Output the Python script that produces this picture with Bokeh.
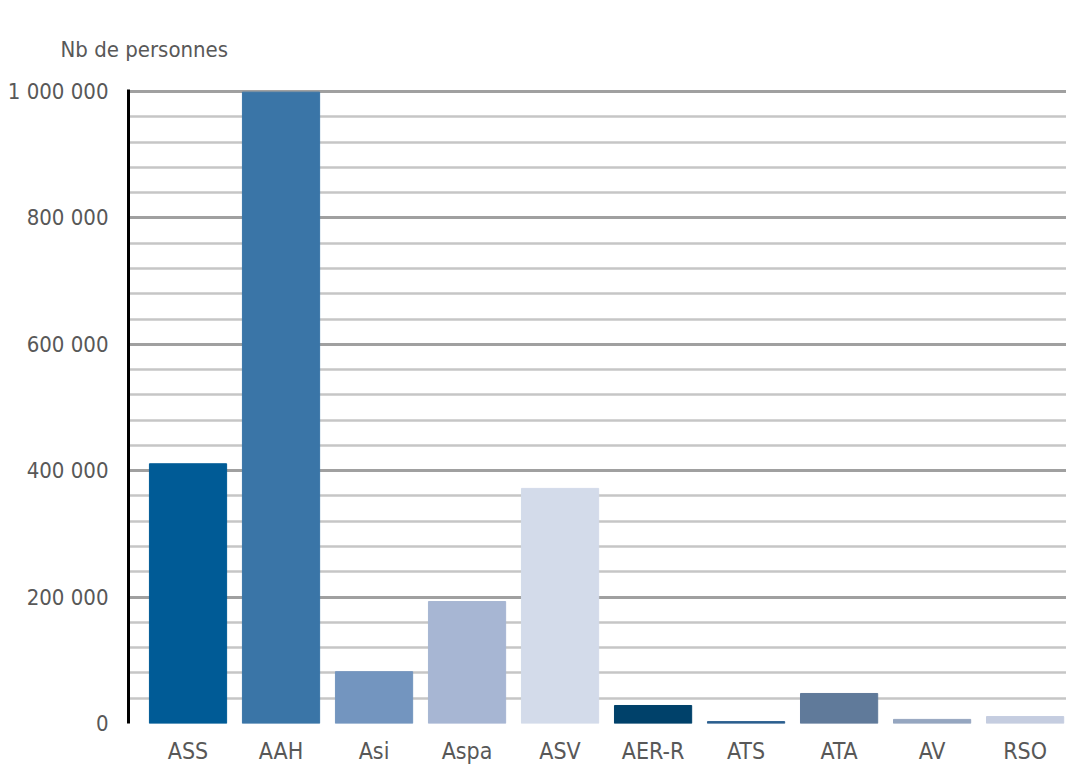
from bokeh.plotting import figure
from bokeh.models import Range1d, FixedTicker, ColumnDataSource
from bokeh.embed import file_html
from bokeh.resources import INLINE

categories = ["ASS", "AAH", "Asi", "Aspa", "ASV", "AER-R", "ATS", "ATA", "AV", "RSO"]
values = [411000, 999000, 82000, 193000, 372000, 28500, 3000, 47500, 6500, 11000]
colors = ["#005b96", "#3a75a7", "#7395bf", "#a7b6d3", "#d3dbea",
          "#00416a", "#2c5f8f", "#607a9a", "#95a6c0", "#c5cde0"]
y_ticks = [0, 200000, 400000, 600000, 800000, 1000000]
y_tick_labels = ["0", "200 000", "400 000", "600 000", "800 000", "1 000 000"]
y_minor = [v for v in range(0, 1000001, 40000) if v % 200000 != 0]
y_title = "Nb de personnes"

FONT = "DejaVu Sans Condensed"
TXT = "#585858"

src = ColumnDataSource(dict(x=list(range(len(categories))), top=values, color=colors))

p = figure(width=1066, height=764, output_backend="svg", toolbar_location=None,
           x_range=Range1d(-0.64, 9.445), y_range=Range1d(0, 1003200),
           frame_width=938, frame_height=634,
           min_border_left=128, min_border_right=0, min_border_top=89, min_border_bottom=41,
           title=y_title)
p.outline_line_color = None
p.background_fill_color = "white"

p.title.text_font = FONT
p.title.text_font_size = "22px"
p.title.text_font_style = "normal"
p.title.text_color = TXT
p.title.align = "left"
p.title.offset = -68
p.title.standoff = 56

p.vbar(x="x", top="top", width=0.83, color="color", source=src)

p.xgrid.grid_line_color = None
p.ygrid.ticker = FixedTicker(ticks=y_ticks[1:], minor_ticks=[0] + y_minor)
p.ygrid.grid_line_color = "#a0a0a0"
p.ygrid.grid_line_width = 3
p.ygrid.minor_grid_line_color = "#c6c6c6"
p.ygrid.minor_grid_line_width = 2.5
p.ygrid.level = "underlay"

p.yaxis.ticker = FixedTicker(ticks=y_ticks)
p.yaxis.major_label_overrides = {t: l for t, l in zip(y_ticks, y_tick_labels)}
p.yaxis.axis_line_color = "black"
p.yaxis.axis_line_width = 3
p.yaxis.major_tick_line_color = None
p.yaxis.minor_tick_line_color = None
p.yaxis.major_label_text_font = FONT
p.yaxis.major_label_text_font_size = "22px"
p.yaxis.major_label_text_color = TXT
p.yaxis.major_label_standoff = 14

p.xaxis.ticker = FixedTicker(ticks=list(range(len(categories))))
p.xaxis.major_label_overrides = {i: c for i, c in enumerate(categories)}
p.xaxis.axis_line_color = None
p.xaxis.major_tick_line_color = None
p.xaxis.minor_tick_line_color = None
p.xaxis.major_label_text_font = FONT
p.xaxis.major_label_text_font_size = "23px"
p.xaxis.major_label_text_color = TXT
p.xaxis.major_label_standoff = 8

open("out.html", "w").write(file_html(p, INLINE))
